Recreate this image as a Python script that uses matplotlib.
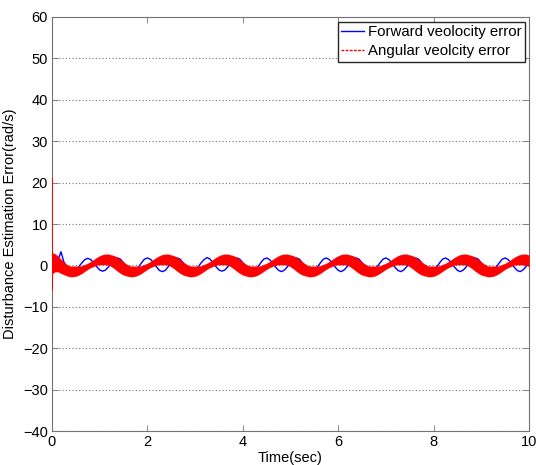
"""Disturbance estimation error: forward and angular velocity error vs time."""

import numpy as np
import matplotlib
matplotlib.use("Agg")
import matplotlib.pyplot as plt
from matplotlib.lines import Line2D

plt.rcParams["font.family"] = ["Liberation Sans", "DejaVu Sans"]

# sample grid (sec), 0.0625 s step, 0..10 s
t = np.arange(161) * 0.0625

# forward velocity error
blue = [0.0, -1.0, 1.2, 3.3, 0.8, -0.6, -1.3, -1.5, -1.1, -0.3, 0.6, 1.4,
        1.7, 1.4, 0.6, -0.3, -1.1, -1.4, -1.1, -0.3, 0.6, 1.4,
        1.8, 1.5, 0.6, -0.4, -1.2, -1.5, -1.2, -0.4, 0.6, 1.5,
        1.8, 1.5, 0.7, -0.3, -1.2, -1.5, -1.2, -0.3, 0.7, 1.5,
        1.8, 1.5, 0.6, -0.4, -1.2, -1.5, -1.2, -0.4, 0.6, 1.4,
        1.9, 1.5, 0.7, -0.3, -1.1, -1.4, -1.1, -0.3, 0.7, 1.5,
        1.8, 1.5, 0.6, -0.4, -1.2, -1.5, -1.2, -0.4, 0.6, 1.5,
        1.8, 1.4, 0.6, -0.4, -1.2, -1.5, -1.1, -0.3, 0.7, 1.5,
        1.8, 1.5, 0.6, -0.4, -1.2, -1.5, -1.2, -0.4, 0.6, 1.5,
        1.8, 1.4, 0.6, -0.4, -1.2, -1.5, -1.1, -0.3, 0.7, 1.5,
        1.8, 1.5, 0.6, -0.4, -1.2, -1.5, -1.2, -0.4, 0.6, 1.5,
        1.8, 1.4, 0.6, -0.4, -1.2, -1.5, -1.1, -0.3, 0.7, 1.5,
        1.8, 1.5, 0.6, -0.4, -1.2, -1.5, -1.2, -0.4, 0.6, 1.5,
        1.8, 1.4, 0.6, -0.4, -1.2, -1.5, -1.1, -0.3, 0.7, 1.5,
        1.8, 1.5, 0.6, -0.4, -1.2, -1.5, -1.2, -0.4, 0.6, 1.5,
        1.8, 1.4, 0.6, -0.4, -1.2, -1.5, -1.1, -0.3, 0.7]

# angular velocity error: chattering, drawn as its upper / lower envelope
red_hi = [3.0, 2.8, 2.2, 1.5, 0.8, 0.2, -0.2,
          -0.2, -0.2, -0.2, -0.1, 0.2, 0.5, 0.9, 1.4, 1.9, 2.3, 2.6, 2.7, 2.7, 2.5, 2.3, 1.9, 1.4, 0.8, 0.3, -0.1,
          -0.2, -0.2, -0.2, -0.1, 0.2, 0.5, 0.9, 1.4, 1.9, 2.3, 2.6, 2.7, 2.7, 2.5, 2.3, 1.9, 1.4, 0.8, 0.3, -0.1,
          -0.2, -0.2, -0.2, -0.1, 0.2, 0.5, 0.9, 1.4, 1.9, 2.3, 2.6, 2.7, 2.7, 2.5, 2.3, 1.9, 1.4, 0.8, 0.3, -0.1,
          -0.2, -0.2, -0.2, -0.1, 0.2, 0.5, 0.9, 1.4, 1.9, 2.3, 2.6, 2.7, 2.7, 2.5, 2.3, 1.9, 1.4, 0.8, 0.3, -0.1,
          -0.2, -0.2, -0.2, -0.1, 0.2, 0.5, 0.9, 1.4, 1.9, 2.3, 2.6, 2.7, 2.7, 2.5, 2.3, 1.9, 1.4, 0.8, 0.3, -0.1,
          -0.2, -0.2, -0.2, -0.1, 0.2, 0.5, 0.9, 1.4, 1.9, 2.3, 2.6, 2.7, 2.7, 2.5, 2.3, 1.9, 1.4, 0.8, 0.3, -0.1,
          -0.2, -0.2, -0.2, -0.1, 0.2, 0.5, 0.9, 1.4, 1.9, 2.3, 2.6, 2.7, 2.7, 2.5, 2.3, 1.9, 1.4, 0.8, 0.3, -0.1,
          -0.2, -0.2, -0.2, -0.1, 0.2, 0.5, 0.9, 1.4, 1.9, 2.3, 2.6, 2.7, 2.7, 2.5]
red_lo = [-2.0, -1.5, -1.5, -1.9, -2.2, -2.5, -2.7,
          -2.7, -2.6, -2.3, -1.9, -1.4, -0.9, -0.5, -0.2, 0.1, 0.2, 0.2, 0.2, 0.1, -0.3, -0.8, -1.4, -1.9, -2.3, -2.5, -2.7,
          -2.7, -2.6, -2.3, -1.9, -1.4, -0.9, -0.5, -0.2, 0.1, 0.2, 0.2, 0.2, 0.1, -0.3, -0.8, -1.4, -1.9, -2.3, -2.5, -2.7,
          -2.7, -2.6, -2.3, -1.9, -1.4, -0.9, -0.5, -0.2, 0.1, 0.2, 0.2, 0.2, 0.1, -0.3, -0.8, -1.4, -1.9, -2.3, -2.5, -2.7,
          -2.7, -2.6, -2.3, -1.9, -1.4, -0.9, -0.5, -0.2, 0.1, 0.2, 0.2, 0.2, 0.1, -0.3, -0.8, -1.4, -1.9, -2.3, -2.5, -2.7,
          -2.7, -2.6, -2.3, -1.9, -1.4, -0.9, -0.5, -0.2, 0.1, 0.2, 0.2, 0.2, 0.1, -0.3, -0.8, -1.4, -1.9, -2.3, -2.5, -2.7,
          -2.7, -2.6, -2.3, -1.9, -1.4, -0.9, -0.5, -0.2, 0.1, 0.2, 0.2, 0.2, 0.1, -0.3, -0.8, -1.4, -1.9, -2.3, -2.5, -2.7,
          -2.7, -2.6, -2.3, -1.9, -1.4, -0.9, -0.5, -0.2, 0.1, 0.2, 0.2, 0.2, 0.1, -0.3, -0.8, -1.4, -1.9, -2.3, -2.5, -2.7,
          -2.7, -2.6, -2.3, -1.9, -1.4, -0.9, -0.5, -0.2, 0.1, 0.2, 0.2, 0.2, 0.1, -0.3]

# initial peaking of the angular error in the first few ms
spike_t = [0.0, 0.004, 0.008, 0.012, 0.016, 0.02]
spike_v = [0.0, 21.0, -6.0, 3.0, -2.0, 0.0]

labels = ["Forward veolocity error", "Angular veolcity error"]
xticks = [0, 2, 4, 6, 8, 10]
yticks = [-40, -30, -20, -10, 0, 10, 20, 30, 40, 50, 60]

fig = plt.figure(figsize=(5.36, 4.65), dpi=100)
ax = fig.add_axes([52 / 536, 1 - 431 / 465, 477 / 536, 414 / 465])

ax.plot(t, blue, color="b", lw=1.0, zorder=3)
ax.fill_between(t, red_lo, red_hi, color="r", lw=0.2, zorder=4)
ax.plot(spike_t, spike_v, color="r", ls="--", lw=0.8, dashes=(2, 1), zorder=4)

ax.set_xlim(0, 10)
ax.set_ylim(-40, 60)
ax.set_xticks(xticks)
ax.set_yticks(yticks)
ax.tick_params(direction="in", top=True, right=True, length=4, width=0.6,
               color="0.45", labelsize=10.5, labelcolor="k", pad=3)
for s in ax.spines.values():
    s.set_color("0.45")
    s.set_linewidth(0.8)
ax.yaxis.grid(True, ls=(0, (1, 2)), color="0.45", lw=0.8, zorder=0)

ax.set_xlabel("Time(sec)", fontsize=10.5, labelpad=1)
ax.set_ylabel("Disturbance Estimation Error(rad/s)", fontsize=10.5, labelpad=4)

handles = [Line2D([], [], color="b", lw=1.0),
           Line2D([], [], color="r", lw=1.0, ls="--", dashes=(2, 1))]
ax.legend(handles, labels, loc="upper right", bbox_to_anchor=(0.9916, 0.9886),
          borderaxespad=0, fontsize=10.8, handlelength=1.5, handletextpad=0.25,
          labelspacing=0.3, borderpad=0.25, fancybox=False, framealpha=1,
          edgecolor="0.15")

fig.savefig("out.png", dpi=100)
